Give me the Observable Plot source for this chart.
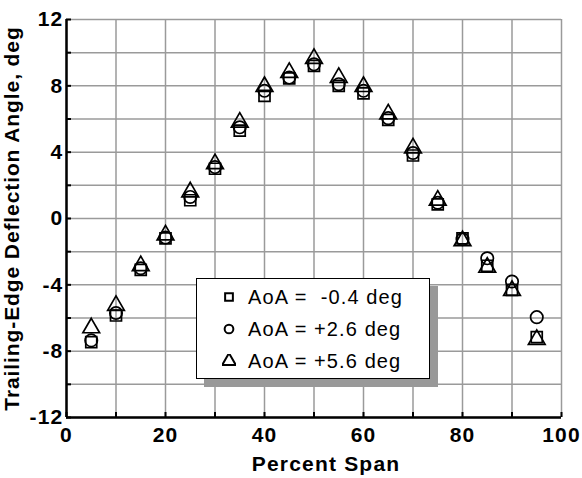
<!DOCTYPE html>
<html><head><meta charset="utf-8">
<script src="https://cdn.jsdelivr.net/npm/d3@7"></script>
<script src="https://cdn.jsdelivr.net/npm/@observablehq/plot@0.6"></script>
<style>
body{margin:0;background:#fff;font-family:"Liberation Sans",Arial,sans-serif;}
#wrap{position:relative;width:582px;height:478px;}
#chart svg text{letter-spacing:1.2px;}
#chart svg g[aria-label="y-axis label"] text{letter-spacing:0.9px;}
#legend{position:absolute;left:196px;top:278px;width:232px;height:99px;border:1.5px solid #000;background:#fff;box-shadow:8px 8px 0 #999;font-size:20px;letter-spacing:1.1px;}
.row{position:absolute;left:0;height:32px;white-space:pre;display:flex;align-items:center;}
.row svg{margin-left:25px;margin-right:12px;}
</style></head><body>
<div id="wrap"><div id="chart"></div><div id="legend"></div></div>
<script>
const span = [5,10,15,20,25,30,35,40,45,50,55,60,65,70,75,80,85,90,95];
const aoaNeg04 = [-7.45,-5.85,-3.1,-1.2,1.1,3.0,5.3,7.4,8.45,9.2,8.0,7.55,5.95,3.8,0.85,-1.2,-2.85,-4.3,-7.15];
const aoaPos26 = [-7.35,-5.7,-3.0,-1.15,1.3,3.1,5.5,7.7,8.5,9.3,8.1,7.7,6.05,3.95,0.95,-1.25,-2.4,-3.8,-5.95];
const aoaPos56 = [-6.6,-5.25,-2.85,-1.0,1.6,3.3,5.8,7.95,8.8,9.65,8.5,7.95,6.3,4.25,1.1,-1.35,-2.95,-4.35,-7.3];
const seriesLabels = ["AoA =  -0.4 deg","AoA = +2.6 deg","AoA = +5.6 deg"];
const seriesSymbols = ["square","circle","triangle"];
const xTicks = [0,20,40,60,80,100];
const yTicks = [-12,-8,-4,0,4,8,12];
const xTitle = "Percent Span";
const yTitle = "Trailing-Edge Deflection Angle, deg";

const allSeries = [aoaNeg04, aoaPos26, aoaPos56];
const data = allSeries.flatMap((vals, i) => vals.map((v, j) => ({x: span[j], y: v, s: seriesSymbols[i]})));

const font = '"Liberation Sans", Arial, sans-serif';
const chart = Plot.plot({
  width: 582, height: 478,
  marginLeft: 66, marginRight: 21, marginTop: 19, marginBottom: 61,
  style: {fontFamily: font, fontSize: "21px", fontWeight: "bold", color: "#000", background: "#fff"},
  x: {domain: [0, 100]},
  y: {domain: [-12, 12]},
  symbol: {domain: seriesSymbols, range: seriesSymbols},
  marks: [
    Plot.gridX(d3.range(0, 101, 10), {stroke: "#9a9a9a", strokeOpacity: 1, strokeWidth: 1.5}),
    Plot.gridY(d3.range(-12, 13, 2), {stroke: "#9a9a9a", strokeOpacity: 1, strokeWidth: 1.5}),
    Plot.axisX(d3.range(0, 101, 10), {tickSize: -5, tickFormat: () => "", strokeWidth: 2, label: null}),
    Plot.axisY(d3.range(-12, 13, 2), {tickSize: -5, tickFormat: () => "", strokeWidth: 2, label: null}),
    Plot.axisX(xTicks, {tickSize: 0, tickPadding: 10, fontSize: 21, tickFormat: d => String(d), label: null}),
    Plot.axisY(yTicks, {tickSize: 0, tickPadding: 3, fontSize: 21, tickFormat: d => String(d), label: yTitle, labelAnchor: "center", labelOffset: 62, labelArrow: "none"}),
    Plot.text([xTitle], {text: d => d, frameAnchor: "bottom", dx: 12, dy: 53, fontSize: 21, fontWeight: "bold"}),
    Plot.ruleX([0], {stroke: "#000", strokeWidth: 2.5}),
    Plot.ruleY([-12], {stroke: "#000", strokeWidth: 2.5}),
    Plot.dot(data, {x: "x", y: "y", symbol: "s", r: 6.2, stroke: "#000", strokeWidth: 1.7, fill: "none"})
  ]
});
document.getElementById("chart").appendChild(chart);

const legend = document.getElementById("legend");
seriesLabels.forEach((lab, i) => {
  const row = document.createElement("div");
  row.className = "row";
  row.style.top = (2 + i * 32) + "px";
  const path = d3.symbol(d3["symbol" + seriesSymbols[i][0].toUpperCase() + seriesSymbols[i].slice(1)], i === 2 ? 80 : 60)();
  row.innerHTML = `<svg width="14" height="14" viewBox="-7 -7 14 14"><path d="${path}" fill="none" stroke="#000" stroke-width="2"/></svg><span>${lab}</span>`;
  legend.appendChild(row);
});
</script></body></html>
